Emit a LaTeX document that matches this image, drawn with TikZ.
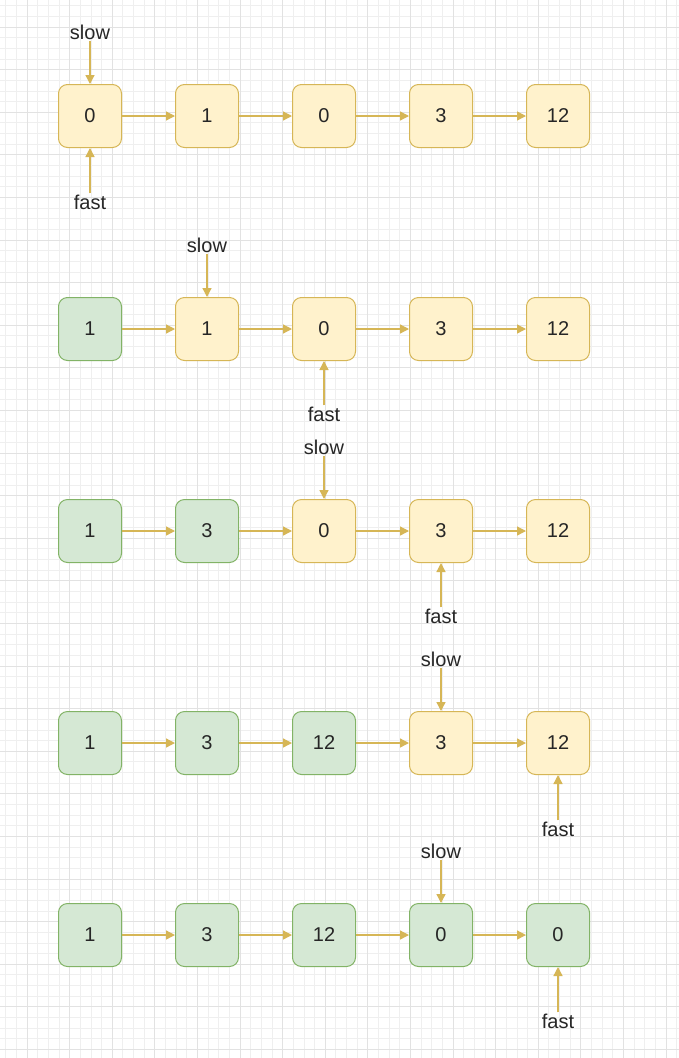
\documentclass[tikz,border=0pt]{standalone}
\usepackage{fontspec}
\setmainfont{Liberation Sans}
\usetikzlibrary{arrows.meta}
\definecolor{yf}{HTML}{FFF2CC}\definecolor{yd}{HTML}{D6B656}
\definecolor{gf}{HTML}{D5E8D4}\definecolor{gd}{HTML}{82B366}
\definecolor{gridc}{HTML}{E2E2E2}\definecolor{gridm}{HTML}{EFEFEF}
\def\getspec#1:#2\relax{\def\st{#1}\def\txt{#2}}
\tikzset{
 box/.style={rounded corners=9pt,minimum size=63pt,inner sep=0pt,line width=1pt,font=\fontsize{20}{22}\selectfont,text=black!85},
 Y/.style={box,fill=yf,draw=yd}, G/.style={box,fill=gf,draw=gd},
 lab/.style={font=\fontsize{20}{22}\selectfont,text=black!85,inner sep=1pt},
 con/.style={draw=yd,line width=1.3pt,-{Triangle[width=9pt,length=9pt]}}
}
\begin{document}
\begin{tikzpicture}[x=1pt,y=-1pt]
\useasboundingbox (0,0) rectangle (679,1058);
\fill[white] (0,0) rectangle (679,1058);
\foreach \i in {0,...,64}{\draw[gridm,line width=0.8pt] ({\i*10.65-4.95},0) -- ({\i*10.65-4.95},1058);}
\foreach \i in {0,...,100}{\draw[gridm,line width=0.8pt] (0,{\i*10.65-4.95}) -- (679,{\i*10.65-4.95});}
\foreach \i in {0,...,16}{\draw[gridc,line width=1pt] ({\i*42.6+27},0) -- ({\i*42.6+27},1058);}
\foreach \i in {0,...,25}{\draw[gridc,line width=1pt] (0,{\i*42.6+27}) -- (679,{\i*42.6+27});}
\foreach \r/\y/\sa/\sb/\sc/\sd/\se in {
 1/116/Y:0/Y:1/Y:0/Y:3/Y:12,
 2/329/G:1/Y:1/Y:0/Y:3/Y:12,
 3/531/G:1/G:3/Y:0/Y:3/Y:12,
 4/743/G:1/G:3/G:12/Y:3/Y:12,
 5/935/G:1/G:3/G:12/G:0/G:0}{
 \foreach \c/\x/\s in {1/90/\sa,2/207/\sb,3/324/\sc,4/441/\sd,5/558/\se}{
   \edef\spec{\s}
   \expandafter\getspec\spec\relax
   \node[\st] (n\r\c) at (\x,\y) {\txt};
 }
 \foreach \a/\b in {1/2,2/3,3/4,4/5}{\draw[con] (n\r\a) -- (n\r\b);}
}
\node[lab] (s1) at (90,32) {slow}; \node[lab] (f1) at (90,202) {fast};
\node[lab] (s2) at (207,245) {slow}; \node[lab] (f2) at (324,414) {fast};
\node[lab] (s3) at (324,447) {slow}; \node[lab] (f3) at (441,616) {fast};
\node[lab] (s4) at (441,659) {slow}; \node[lab] (f4) at (558,829) {fast};
\node[lab] (s5) at (441,851) {slow}; \node[lab] (f5) at (558,1021) {fast};
\draw[con] (s1) -- (n11); \draw[con] (f1) -- (n11);
\draw[con] (s2) -- (n22); \draw[con] (f2) -- (n23);
\draw[con] (s3) -- (n33); \draw[con] (f3) -- (n34);
\draw[con] (s4) -- (n44); \draw[con] (f4) -- (n45);
\draw[con] (s5) -- (n54); \draw[con] (f5) -- (n55);
\end{tikzpicture}
\end{document}
